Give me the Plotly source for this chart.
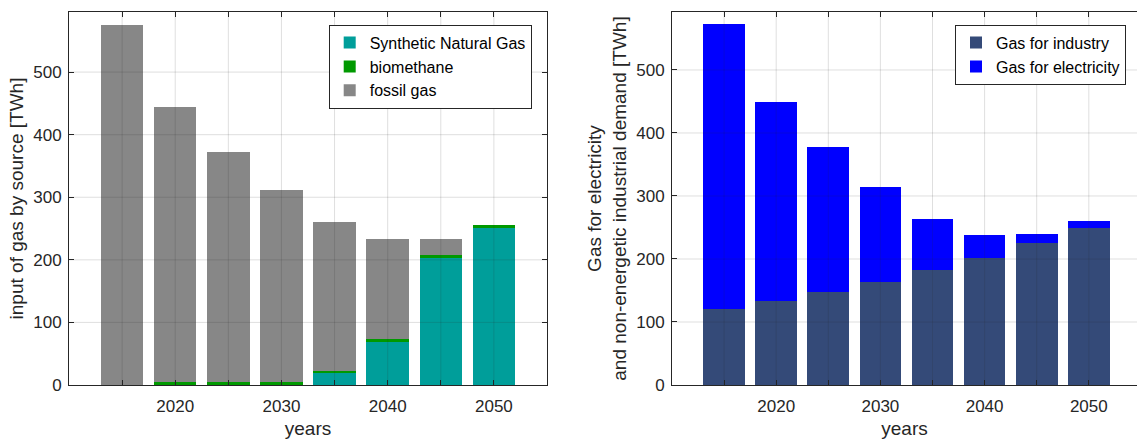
import plotly.graph_objects as go
from plotly.subplots import make_subplots

# ---- data ----
years = [2015, 2020, 2025, 2030, 2035, 2040, 2045, 2050]
sng = [0, 0, 0, 0, 19, 69, 203, 251]
biomethane = [0, 5, 5, 5, 4, 4, 5, 5]
fossil = [576, 440, 368, 306, 237, 160, 26, 0]

industry = [120, 133, 148, 164, 182, 202, 225, 249]
electricity = [453, 316, 230, 151, 82, 36, 14, 12]

x_tickvals = [2015, 2020, 2025, 2030, 2035, 2040, 2045, 2050]
x_ticktext = ["", "2020", "", "2030", "", "2040", "", "2050"]
y_tickvals = [0, 100, 200, 300, 400, 500]

W, H = 1137, 441
FONT = "Liberation Sans, Arial, Helvetica, sans-serif"
AX = "#262626"
GRID = "rgba(38,38,38,0.15)"

fig = make_subplots(rows=1, cols=2)

bar_w = 4
fig.add_trace(go.Bar(x=years, y=sng, name="Synthetic Natural Gas", width=bar_w,
                     marker=dict(color="#009E9A", line=dict(width=0)), legend="legend"), 1, 1)
fig.add_trace(go.Bar(x=years, y=biomethane, name="biomethane", width=bar_w,
                     marker=dict(color="#009900", line=dict(width=0)), legend="legend"), 1, 1)
fig.add_trace(go.Bar(x=years, y=fossil, name="fossil gas", width=bar_w,
                     marker=dict(color="#878787", line=dict(width=0)), legend="legend"), 1, 1)

fig.add_trace(go.Bar(x=years, y=industry, name="Gas for industry", width=bar_w,
                     marker=dict(color="#344A78", line=dict(width=0)), legend="legend2"), 1, 2)
fig.add_trace(go.Bar(x=years, y=electricity, name="Gas for electricity", width=bar_w,
                     marker=dict(color="#0000FF", line=dict(width=0)), legend="legend2"), 1, 2)

# grid lines drawn above the bars (MATLAB style)
for xr, yr in (("x", "y"), ("x2", "y2")):
    for v in x_tickvals:
        fig.add_shape(type="line", xref=xr, yref=yr + " domain", x0=v, x1=v, y0=0, y1=1,
                      line=dict(color=GRID, width=1), layer="above")
    for v in y_tickvals[1:]:
        fig.add_shape(type="line", xref=xr + " domain", yref=yr, x0=0, x1=1, y0=v, y1=v,
                      line=dict(color=GRID, width=1), layer="above")

TF = dict(size=19, color=AX, family=FONT)
common_x = dict(tickvals=x_tickvals, ticktext=x_ticktext, ticks="inside", ticklen=5,
                tickcolor=AX, showline=True, linecolor=AX, linewidth=1, showgrid=False,
                zeroline=False, tickfont=dict(size=17, color=AX, family=FONT),
                ticklabelstandoff=6,
                title=dict(text="years", font=TF, standoff=6),
                automargin=False)
common_y = dict(tickvals=y_tickvals, ticks="inside", ticklen=5, tickcolor=AX,
                showline=True, linecolor=AX, linewidth=1, showgrid=False, zeroline=False,
                tickfont=dict(size=17, color=AX, family=FONT), ticklabelstandoff=3,
                automargin=False)

fig.update_xaxes(**common_x, range=[2010, 2055], domain=[69 / W, 547 / W], mirror="ticks", row=1, col=1)
fig.update_xaxes(**common_x, range=[2010, 2010 + (W - 672) / 10.42], domain=[672 / W, 1.0],
                 mirror="ticks", row=1, col=2)
fig.update_yaxes(**common_y, range=[0, 596], mirror="ticks",
                 title=dict(text="input of gas by source [TWh]", font=TF, standoff=4), row=1, col=1)
fig.update_yaxes(**common_y, range=[0, 592], mirror=False,
                 title=dict(text="Gas for electricity<br>and non-energetic industrial demand [TWh]",
                            font=TF, standoff=4), row=1, col=2)

fig.update_layout(
    width=W, height=H,
    margin=dict(l=0, r=0, t=12, b=56),
    barmode="stack", bargap=0,
    paper_bgcolor="white", plot_bgcolor="white",
    font=dict(family=FONT, color="#000000"),
    legend=dict(x=531.7 / W, xanchor="right", y=0.966, yanchor="top",
                bgcolor="white", bordercolor=AX, borderwidth=1,
                font=dict(size=16, color="#000000", family=FONT), traceorder="normal",
                itemwidth=30, tracegroupgap=0),
    legend2=dict(x=1126 / W, xanchor="right", y=0.966, yanchor="top",
                 bgcolor="white", bordercolor=AX, borderwidth=1,
                 font=dict(size=16, color="#000000", family=FONT), traceorder="normal",
                 itemwidth=30, tracegroupgap=0),
    showlegend=True,
)

fig.write_html("out.html", config={"displayModeBar": False},
               post_script="document.body.style.margin='0';document.body.style.overflow='hidden';")
